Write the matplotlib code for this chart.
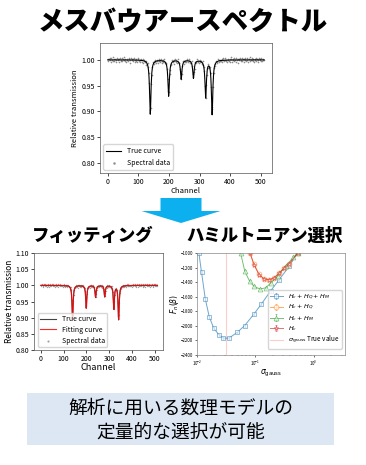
import numpy as np
import matplotlib
matplotlib.use("Agg")
import matplotlib.pyplot as plt
from matplotlib.patches import Rectangle, Polygon

plt.rcParams['font.family'] = ['Noto Sans CJK JP', 'DejaVu Sans']
plt.rcParams['mathtext.fontset'] = 'dejavusans'

# ---- Spectrum data (sextet parameters) ----
channels = np.arange(0, 512)
peak_pos = [139, 199, 240, 280, 320, 341]
peak_depth = [0.105, 0.070, 0.037, 0.035, 0.072, 0.105]
peak_hwhm = [2.8, 2.8, 2.8, 2.8, 2.8, 2.8]
data_step = 2
noise_milli = [
    2,-3,1,4,-1,-4,3,0,-2,5,1,-3,2,-5,0,3,-1,2,-4,1,4,-2,0,-3,3,1,-1,5,-2,2,-4,0,
    1,-3,4,2,-1,-5,3,0,2,-2,1,4,-3,0,-1,3,-4,2,5,-1,0,-3,2,1,-2,4,-4,0,3,-1,1,-5,
    -2,3,0,-1,4,-3,1,2,-4,0,5,-2,1,-1,3,-3,0,2,-5,4,-1,1,-2,3,0,-4,2,-1,4,-2,1,0,
    3,-1,-4,2,0,5,-3,1,-2,4,-1,0,-5,2,3,-2,1,-3,4,0,-1,2,-4,3,1,-2,0,5,-3,2,-1,1,
    -3,4,1,-2,0,3,-4,2,-1,5,0,-3,2,1,-5,3,-2,0,4,-1,1,-4,3,-2,0,2,-3,5,-1,0,4,-2,
    0,2,-3,1,5,-4,-1,3,2,-2,0,4,-3,1,-1,2,-5,3,0,-2,4,1,-3,0,2,-1,3,-4,1,5,-2,0,
    4,-2,1,-3,0,3,-1,2,-4,1,5,-3,0,2,-2,4,-1,-4,3,0,1,-5,2,-1,3,0,-3,4,-2,1,2,-4,
    -1,3,-2,0,4,-4,2,1,-3,5,0,-1,3,-2,1,-4,2,0,-3,4,1,-1,-5,3,2,0,-2,4,-3,1,0,-1,
]
top_xticks = [0, 100, 200, 300, 400, 500]
top_yticks = [0.80, 0.85, 0.90, 0.95, 1.00]
bl_yticks = [0.80, 0.85, 0.90, 0.95, 1.00, 1.05, 1.10]

# ---- Hamiltonian selection data ----
sig_full = [0.0108, 0.012, 0.0139, 0.0163, 0.0194, 0.0237, 0.028, 0.0352,
            0.049, 0.0655, 0.095, 0.127, 0.184, 0.256, 0.38, 0.53]
F_full = [-1000, -1266, -1629, -1881, -2033, -2124, -2170, -2172,
          -2092, -2000, -1839, -1702, -1519, -1367, -1184, -1000]
sig_QQ = [0.081, 0.095, 0.116, 0.141, 0.172, 0.21, 0.256, 0.31, 0.38, 0.53]
F_QQ = [-1000, -1158, -1295, -1355, -1365, -1342, -1273, -1208, -1148, -1000]
sig_M = [0.056, 0.066, 0.08, 0.095, 0.12, 0.15, 0.184, 0.24, 0.33, 0.45, 0.53]
F_M = [-1000, -1252, -1390, -1459, -1496, -1480, -1413, -1321, -1180, -1060, -1000]
sig_c = [0.081, 0.095, 0.116, 0.141, 0.172, 0.21, 0.256, 0.31, 0.38, 0.53]
F_c = [-1000, -1161, -1298, -1358, -1367, -1344, -1275, -1210, -1150, -1000]
sigma_true = 0.032
hr_yticks = [-2400, -2200, -2000, -1800, -1600, -1400, -1200, -1000]
hr_labels = ['$H_c+H_Q+H_M$', '$H_c+H_Q$', '$H_c+H_M$', '$H_c$',
             r'$\sigma_{\rm gauss}$ True value']


def sextet(x):
    y = np.ones_like(x, dtype=float)
    for p, d, w in zip(peak_pos, peak_depth, peak_hwhm):
        y -= d * w**2 / ((x - p)**2 + w**2)
    return y


true_curve = sextet(channels)
data_ch = channels[::data_step][:len(noise_milli)]
data_val = sextet(data_ch) + np.array(noise_milli) / 1000.0

fig = plt.figure(figsize=(3.66, 4.65), dpi=100)

# Titles
fig.text(0.5, 0.953, 'メスバウアースペクトル', ha='center', va='center',
         fontsize=19, fontweight='heavy')
fig.text(0.252, 0.492, 'フィッティング', ha='center', va='center',
         fontsize=12.5, fontweight='heavy')
fig.text(0.724, 0.492, 'ハミルトニアン選択', ha='center', va='center',
         fontsize=12.5, fontweight='heavy')

spine_c = '#555555'

# ---- Top spectrum ----
ax1 = fig.add_axes([0.273, 0.628, 0.470, 0.280])
ax1.scatter(data_ch, data_val, s=1.4, color='#8c8c8c', label='Spectral data',
            linewidths=0)
ax1.plot(channels, true_curve, color='black', lw=0.8, label='True curve')
ax1.set_xlim(-25.5, 536.5)
ax1.set_ylim(0.781, 1.033)
ax1.set_xticks(top_xticks)
ax1.set_yticks(top_yticks)
ax1.set_yticklabels([f'{v:.2f}' for v in top_yticks])
ax1.tick_params(labelsize=5, length=2, width=0.5, pad=1.5)
ax1.set_xlabel('Channel', fontsize=5.5, labelpad=1)
ax1.set_ylabel('Relative transmission', fontsize=5.5, labelpad=2)
for s in ax1.spines.values():
    s.set_linewidth(0.5); s.set_color(spine_c)
h, l = ax1.get_legend_handles_labels()
ax1.legend(h[::-1], l[::-1], loc='lower left', fontsize=5, frameon=True,
           markerscale=1.5, handlelength=2.2, borderpad=0.4, labelspacing=0.5)

# ---- Arrow ----
W, H = 366.0, 465.0
cx = 181
verts = [(cx - 20.5, 198), (cx + 20.5, 198), (cx + 20.5, 211), (cx + 39.5, 211),
         (cx, 223), (cx - 39.5, 211), (cx - 20.5, 211)]
verts = [(x / W, 1 - y / H) for x, y in verts]
fig.patches.append(Polygon(verts, closed=True, transform=fig.transFigure,
                           facecolor='#0db0ef', edgecolor='none'))

# ---- Bottom-left fitting ----
ax2 = fig.add_axes([0.093, 0.247, 0.352, 0.209])
ax2.scatter(data_ch, data_val, s=1.0, color='#a0a0a0', label='Spectral data',
            linewidths=0)
ax2.plot(channels, true_curve, color='#444444', lw=0.8, label='True curve')
ax2.plot(channels, true_curve, color='red', lw=0.8, alpha=0.85, label='Fitting curve')
ax2.set_xlim(-30, 535)
ax2.set_ylim(0.80, 1.10)
ax2.set_xticks(top_xticks)
ax2.set_yticks(bl_yticks)
ax2.set_yticklabels([f'{v:.2f}' for v in bl_yticks])
ax2.tick_params(labelsize=5, length=2, width=0.5, pad=1.5)
ax2.set_xlabel('Channel', fontsize=6.5, labelpad=0)
ax2.set_ylabel('Relative transmission', fontsize=6, labelpad=1)
for s in ax2.spines.values():
    s.set_linewidth(0.5); s.set_color(spine_c)
h, l = ax2.get_legend_handles_labels()
ax2.legend([h[1], h[2], h[0]], [l[1], l[2], l[0]], loc='lower left',
           fontsize=5, frameon=True, markerscale=1.5, handlelength=2.4,
           borderpad=0.3, labelspacing=0.4, bbox_to_anchor=(0.0, 0.0))

# ---- Bottom-right Hamiltonian selection ----
ax3 = fig.add_axes([0.538, 0.237, 0.404, 0.219])
series = [
    (sig_full, F_full, '#1f77b4', 's'),
    (sig_QQ, F_QQ, '#ff7f0e', 'o'),
    (sig_M, F_M, '#2ca02c', '^'),
    (sig_c, F_c, '#d62728', '*'),
]
handles = []
for (sx, sy, c, m), lab in zip(series, hr_labels[:4]):
    eb = ax3.errorbar(sx, sy, yerr=12, color=c, alpha=0.65, lw=0.7, marker=m,
                      markersize=3.5, markerfacecolor=(1, 1, 1, 0.6),
                      markeredgewidth=0.5, capsize=1, elinewidth=0.5, label=lab)
    handles.append(eb)
vl = ax3.axvline(sigma_true, color='red', alpha=0.2, lw=0.8, label=hr_labels[4])
handles.append(vl)
ax3.set_xscale('log')
ax3.set_xlim(0.01, 3.4)
ax3.set_ylim(-2400, -1000)
ax3.set_yticks(hr_yticks)
ax3.tick_params(labelsize=3.2, length=1.5, width=0.4, pad=1)
ax3.tick_params(which='minor', length=0.8, width=0.3)
ax3.set_xlabel(r'$\sigma_{\rm gauss}$', fontsize=5.5, labelpad=0)
ax3.set_ylabel(r'$F_n(\beta)$', fontsize=5.5, labelpad=0)
for s in ax3.spines.values():
    s.set_linewidth(0.5); s.set_color('#888888')
ax3.legend(handles=handles, labels=hr_labels, loc='lower right', fontsize=4.6,
           frameon=True, handlelength=2.0, borderpad=0.35, labelspacing=0.2,
           bbox_to_anchor=(1.0, 0.03))

# ---- Bottom text box ----
fig.patches.append(Rectangle((27 / W, 1 - 445 / H), 307 / W, 52 / H,
                             transform=fig.transFigure, facecolor='#dde7f4',
                             edgecolor='none'))
fig.text(181 / W, 1 - 408 / H, '解析に用いる数理モデルの', ha='center',
         va='center', fontsize=13.5)
fig.text(181 / W, 1 - 432 / H, '定量的な選択が可能', ha='center',
         va='center', fontsize=13.5)

fig.savefig('out.png', dpi=100)
